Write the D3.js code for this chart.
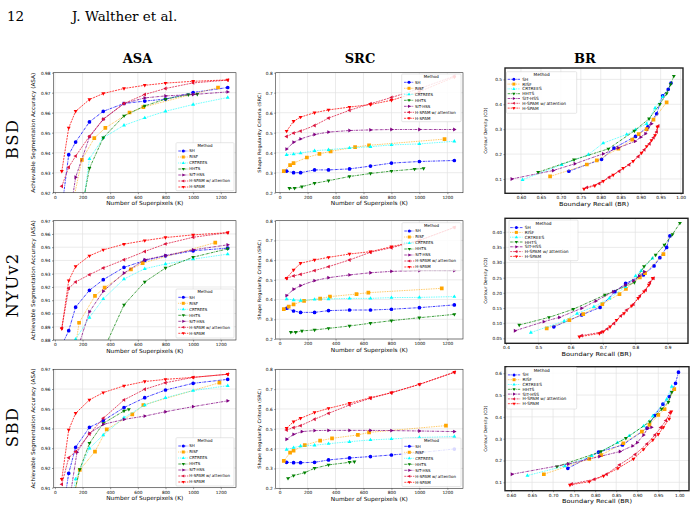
<!DOCTYPE html>
<html>
<head>
<meta charset="utf-8">
<title>superpixel metrics</title>
<script src="https://d3js.org/d3.v7.min.js"></script>
<style>
  body { margin: 0; background: #fff; }
  svg text { font-family: "DejaVu Sans", sans-serif; fill: #000; }
  .serif { font-family: "DejaVu Serif", serif; }
</style>
</head>
<body>
<svg id="fig" width="695" height="509"></svg>
<script>
// methods in legend order
const methods = ["SH", "RISF", "CRTREES", "HHTS", "SIT-HSS", "H-SPAM w/ attention", "H-SPAM"];
const colors = ["#0000ff", "#ffa500", "#00ffff", "#008000", "#800080", "#dc143c", "#ff0000"];
const markers = ["circle", "square", "triUp", "triDown", "triRight", "triLeft", "triDown"];
const dashes = ["2.6,0.8,0.7,0.8", "0.8,0.9", "0.8,0.9", "2.6,0.8,0.7,0.8", "2.6,0.8,0.7,0.8", "2,0.9", "2,0.9"];

// number of superpixels K per method
const std = [50, 100, 150, 250, 350, 500, 650, 800, 1000, 1250];
const bsdK = [std, [30, 75, 100, 195, 285, 365, 540, 640, 1180], std,
  [70, 107, 160, 250, 350, 500, 650, 800, 965, 1030], std, std, std];
const nyuK = [std, [30, 65, 100, 175, 290, 360, 550, 635, 1160], std,
  [80, 115, 160, 250, 350, 500, 650, 800, 1000, 1250], std, std, std];
const sbdK = [std, [30, 75, 100, 180, 290, 375, 560, 640, 1190], std,
  [60, 100, 180, 250, 350, 500, 535], [50, 100, 160, 250, 350, 500, 650, 800, 1000, 1250], std, std];

// ASA
const bsdAsa = [
  [0.912, 0.939, 0.9453, 0.9554, 0.9607, 0.9646, 0.9658, 0.9668, 0.9701, 0.9726],
  [0.880, 0.895, 0.905, 0.9364, 0.9473, 0.9524, 0.9601, 0.9628, 0.9726],
  [0.850, 0.870, 0.886, 0.9369, 0.9475, 0.9537, 0.9574, 0.9607, 0.9641, 0.9676],
  [0.870, 0.885, 0.899, 0.9322, 0.9475, 0.9584, 0.9634, 0.9668, 0.9690, 0.9692],
  [0.890, 0.905, 0.9277, 0.9478, 0.9567, 0.9646, 0.9674, 0.9684, 0.9691, 0.9704],
  [0.9232, 0.9327, 0.9383, 0.9482, 0.9568, 0.9646, 0.9691, 0.9721, 0.9749, 0.9763],
  [0.9307, 0.9524, 0.9607, 0.9666, 0.9696, 0.9721, 0.9737, 0.9748, 0.9757, 0.9764]
];
const nyuAsa = [
  [0.876, 0.887, 0.9048, 0.9175, 0.9255, 0.9348, 0.940, 0.9435, 0.9473, 0.9493],
  [0.820, 0.830, 0.842, 0.893, 0.9133, 0.9195, 0.9333, 0.938, 0.9535],
  [0.860, 0.870, 0.8805, 0.897, 0.911, 0.926, 0.9338, 0.9373, 0.941, 0.9448],
  [0.840, 0.845, 0.850, 0.860, 0.872, 0.9065, 0.9238, 0.9343, 0.9425, 0.9488],
  [0.850, 0.860, 0.8685, 0.9013, 0.9168, 0.9305, 0.9405, 0.9438, 0.948, 0.9518],
  [0.889, 0.919, 0.9238, 0.9293, 0.9343, 0.9405, 0.9468, 0.9525, 0.9575, 0.961],
  [0.8885, 0.9248, 0.9355, 0.9435, 0.948, 0.9523, 0.955, 0.9573, 0.9593, 0.961]
];
const sbdAsa = [
  [0.8945, 0.9173, 0.9305, 0.9406, 0.944, 0.9506, 0.9556, 0.9595, 0.9629, 0.9649],
  [0.870, 0.885, 0.894, 0.919, 0.9283, 0.9396, 0.9472, 0.9519, 0.9632],
  [0.885, 0.895, 0.9144, 0.930, 0.9367, 0.9455, 0.9519, 0.9556, 0.9592, 0.9617],
  [0.880, 0.895, 0.9193, 0.9325, 0.9426, 0.9489, 0.9497],
  [0.890, 0.901, 0.928, 0.9376, 0.9421, 0.9446, 0.9463, 0.9485, 0.9511, 0.954],
  [0.9117, 0.9252, 0.9283, 0.9372, 0.9452, 0.9545, 0.9599, 0.9632, 0.9659, 0.9675],
  [0.9143, 0.9393, 0.9477, 0.9545, 0.9582, 0.9616, 0.9638, 0.9649, 0.9659, 0.9675]
];

// SRC
const bsdSrc = [
  [0.308, 0.300, 0.300, 0.314, 0.314, 0.319, 0.333, 0.348, 0.356, 0.361],
  [0.308, 0.338, 0.348, 0.376, 0.394, 0.407, 0.428, 0.437, 0.468],
  [0.390, 0.393, 0.398, 0.410, 0.415, 0.424, 0.430, 0.439, 0.444, 0.457],
  [0.222, 0.222, 0.230, 0.247, 0.260, 0.281, 0.296, 0.308, 0.318, 0.321],
  [0.418, 0.452, 0.469, 0.491, 0.503, 0.511, 0.514, 0.516, 0.516, 0.516],
  [0.481, 0.498, 0.508, 0.536, 0.573, 0.612, 0.645, 0.676, 0.720, 0.783],
  [0.508, 0.557, 0.578, 0.600, 0.614, 0.628, 0.641, 0.662, 0.705, 0.778]
];
const nyuSrc = [
  [0.356, 0.342, 0.335, 0.335, 0.344, 0.347, 0.347, 0.351, 0.359, 0.373],
  [0.352, 0.364, 0.376, 0.393, 0.405, 0.415, 0.428, 0.435, 0.457],
  [0.403, 0.398, 0.395, 0.401, 0.403, 0.406, 0.406, 0.410, 0.411, 0.415],
  [0.234, 0.234, 0.241, 0.246, 0.254, 0.266, 0.280, 0.293, 0.308, 0.325],
  [0.420, 0.452, 0.471, 0.496, 0.511, 0.525, 0.536, 0.543, 0.547, 0.547],
  [0.508, 0.520, 0.528, 0.547, 0.567, 0.601, 0.640, 0.663, 0.700, 0.766],
  [0.508, 0.550, 0.584, 0.601, 0.614, 0.631, 0.643, 0.668, 0.700, 0.766]
];
const sbdSrc = [
  [0.331, 0.329, 0.329, 0.331, 0.343, 0.353, 0.360, 0.368, 0.380, 0.398],
  [0.338, 0.380, 0.390, 0.418, 0.440, 0.452, 0.469, 0.482, 0.516],
  [0.396, 0.405, 0.413, 0.417, 0.425, 0.435, 0.444, 0.449, 0.456, 0.461],
  [0.250, 0.264, 0.279, 0.301, 0.318, 0.331, 0.334],
  [0.447, 0.472, 0.486, 0.491, 0.492, 0.492, 0.492, 0.491, 0.489, 0.486],
  [0.494, 0.506, 0.516, 0.548, 0.578, 0.620, 0.654, 0.682, 0.724, 0.785],
  [0.503, 0.536, 0.553, 0.582, 0.603, 0.629, 0.657, 0.682, 0.724, 0.785]
];

// boundary recall (x) and contour density (y)
const bsdBr = [
  [0.720, 0.802, 0.833, 0.887, 0.918, 0.940, 0.955, 0.969, 0.976],
  [0.673, 0.765, 0.790, 0.844, 0.879, 0.895, 0.915, 0.932, 0.965],
  [0.604, 0.702, 0.769, 0.806, 0.865, 0.887, 0.915, 0.936, 0.955],
  [0.643, 0.733, 0.819, 0.884, 0.921, 0.948, 0.965, 0.975, 0.983],
  [0.577, 0.681, 0.735, 0.806, 0.844, 0.886, 0.900, 0.912, 0.927],
  [0.765, 0.796, 0.821, 0.846, 0.871, 0.894, 0.909, 0.922, 0.932, 0.940, 0.944],
  [0.758, 0.785, 0.806, 0.831, 0.856, 0.881, 0.902, 0.915, 0.927, 0.936, 0.942]
];
const bsdCd = [
  [0.131, 0.179, 0.224, 0.271, 0.309, 0.362, 0.434, 0.460, 0.485],
  [0.110, 0.158, 0.175, 0.222, 0.258, 0.280, 0.300, 0.338, 0.408],
  [0.097, 0.157, 0.198, 0.244, 0.279, 0.298, 0.322, 0.385, 0.430],
  [0.127, 0.177, 0.221, 0.293, 0.342, 0.400, 0.443, 0.480, 0.513],
  [0.100, 0.134, 0.161, 0.201, 0.225, 0.251, 0.268, 0.282, 0.322],
  [0.066, 0.082, 0.107, 0.131, 0.157, 0.190, 0.217, 0.241, 0.266, 0.289, 0.313],
  [0.060, 0.073, 0.091, 0.116, 0.143, 0.171, 0.204, 0.231, 0.255, 0.275, 0.309]
];
const nyuBr = [
  [0.548, 0.634, 0.691, 0.737, 0.770, 0.825, 0.858, 0.876, 0.897, 0.907],
  [0.526, 0.596, 0.639, 0.698, 0.751, 0.771, 0.814, 0.830, 0.887],
  [0.477, 0.580, 0.620, 0.672, 0.720, 0.770, 0.801, 0.818, 0.853],
  [0.441, 0.533, 0.608, 0.706, 0.797, 0.827, 0.863, 0.890, 0.915, 0.938],
  [0.428, 0.517, 0.565, 0.634, 0.678, 0.732, 0.770, 0.794, 0.812, 0.828],
  [0.634, 0.694, 0.713, 0.734, 0.755, 0.773, 0.794, 0.814, 0.832, 0.845, 0.856],
  [0.627, 0.689, 0.701, 0.722, 0.742, 0.765, 0.789, 0.809, 0.827, 0.842, 0.854]
];
const nyuCd = [
  [0.088, 0.127, 0.152, 0.204, 0.231, 0.259, 0.289, 0.316, 0.350, 0.388],
  [0.083, 0.110, 0.130, 0.163, 0.196, 0.213, 0.251, 0.265, 0.328],
  [0.069, 0.107, 0.132, 0.154, 0.182, 0.220, 0.256, 0.273, 0.314],
  [0.094, 0.119, 0.146, 0.193, 0.234, 0.287, 0.325, 0.358, 0.393, 0.430],
  [0.075, 0.105, 0.119, 0.149, 0.173, 0.204, 0.226, 0.240, 0.256, 0.270],
  [0.059, 0.070, 0.081, 0.099, 0.124, 0.143, 0.162, 0.190, 0.209, 0.234, 0.248],
  [0.055, 0.066, 0.072, 0.088, 0.110, 0.132, 0.157, 0.182, 0.204, 0.226, 0.248]
];
const sbdBr = [
  [0.735, 0.808, 0.865, 0.923, 0.941, 0.961, 0.976, 0.991, 0.998],
  [0.678, 0.786, 0.814, 0.867, 0.911, 0.929, 0.950, 0.965, 0.988],
  [0.639, 0.728, 0.792, 0.853, 0.881, 0.915, 0.937, 0.970, 0.982],
  [0.709, 0.814, 0.873, 0.930, 0.958, 0.974, 0.982],
  [0.602, 0.736, 0.810, 0.859, 0.889, 0.900, 0.915, 0.925, 0.934],
  [0.744, 0.798, 0.827, 0.858, 0.895, 0.923, 0.942, 0.956, 0.968, 0.978],
  [0.740, 0.786, 0.820, 0.854, 0.891, 0.915, 0.937, 0.950, 0.962, 0.976, 0.981]
];
const sbdCd = [
  [0.164, 0.238, 0.271, 0.348, 0.406, 0.458, 0.493, 0.554, 0.605],
  [0.137, 0.207, 0.225, 0.279, 0.332, 0.363, 0.409, 0.435, 0.527],
  [0.131, 0.175, 0.221, 0.282, 0.313, 0.358, 0.404, 0.481, 0.539],
  [0.172, 0.241, 0.302, 0.378, 0.436, 0.467, 0.513],
  [0.137, 0.184, 0.218, 0.241, 0.267, 0.282, 0.317, 0.348, 0.352],
  [0.092, 0.114, 0.137, 0.180, 0.228, 0.276, 0.317, 0.351, 0.383, 0.420],
  [0.088, 0.103, 0.129, 0.164, 0.207, 0.251, 0.294, 0.320, 0.352, 0.391, 0.424]
];

// tick values
const kTicks = [0, 200, 400, 600, 800, 1000, 1200];
const srcTicks = [0.2, 0.3, 0.4, 0.5, 0.6, 0.7, 0.8];
const bsdAsaTicks = [0.92, 0.93, 0.94, 0.95, 0.96, 0.97, 0.98];
const nyuAsaTicks = [0.88, 0.89, 0.90, 0.91, 0.92, 0.93, 0.94, 0.95, 0.96, 0.97];
const sbdAsaTicks = [0.91, 0.92, 0.93, 0.94, 0.95, 0.96, 0.97];
const brTicksA = [0.60, 0.65, 0.70, 0.75, 0.80, 0.85, 0.90, 0.95, 1.00];
const brTicksNyu = [0.4, 0.5, 0.6, 0.7, 0.8, 0.9];
const bsdCdTicks = [0.1, 0.2, 0.3, 0.4, 0.5];
const nyuCdTicks = [0.05, 0.10, 0.15, 0.20, 0.25, 0.30, 0.35, 0.40];
const sbdCdTicks = [0.1, 0.2, 0.3, 0.4, 0.5, 0.6];

const svg = d3.select("#fig");

function symPath(kind, r) {
  if (kind === "circle") return d3.symbol(d3.symbolCircle, Math.PI * r * r)();
  if (kind === "square") return `M${-r},${-r}h${2 * r}v${2 * r}h${-2 * r}Z`;
  const a = { triUp: 0, triRight: 90, triDown: 180, triLeft: 270 }[kind] * Math.PI / 180;
  const pts = [[0, -r * 1.2], [r * 1.05, r * 0.65], [-r * 1.05, r * 0.65]]
    .map(([x, y]) => [x * Math.cos(a) - y * Math.sin(a), x * Math.sin(a) + y * Math.cos(a)]);
  return "M" + pts.map(p => p[0].toFixed(2) + "," + p[1].toFixed(2)).join("L") + "Z";
}

let clipId = 0;
function drawPanel(p) {
  const x = d3.scaleLinear().domain(p.xd).range([p.l, p.r]);
  const y = d3.scaleLinear().domain(p.yd).range([p.b, p.t]);
  const g = svg.append("g");

  // grid
  g.selectAll(null).data(p.xt).join("line")
    .attr("x1", d => x(d)).attr("x2", d => x(d)).attr("y1", p.t).attr("y2", p.b)
    .attr("stroke", "#e3e3e3").attr("stroke-width", 0.7);
  g.selectAll(null).data(p.yt).join("line")
    .attr("y1", d => y(d)).attr("y2", d => y(d)).attr("x1", p.l).attr("x2", p.r)
    .attr("stroke", "#e3e3e3").attr("stroke-width", 0.7);

  // axes
  const styleAxis = a => {
    a.select(".domain").remove();
    a.attr("font-size", 4.3).attr("font-family", "DejaVu Sans");
    a.selectAll("line").attr("stroke", "#333").attr("stroke-width", 0.5);
    a.selectAll("text").attr("fill", "#222");
  };
  g.append("g").attr("transform", `translate(0,${p.b})`)
    .call(d3.axisBottom(x).tickValues(p.xt).tickFormat(d3.format(p.xf)).tickSize(1.5).tickPadding(1.5))
    .call(styleAxis);
  g.append("g").attr("transform", `translate(${p.l},0)`)
    .call(d3.axisLeft(y).tickValues(p.yt).tickFormat(d3.format(p.yf)).tickSize(1.5).tickPadding(1.5))
    .call(styleAxis);

  // series
  const id = "clip" + (clipId++);
  svg.append("clipPath").attr("id", id).append("rect")
    .attr("x", p.l).attr("y", p.t).attr("width", p.r - p.l).attr("height", p.b - p.t);
  const plot = g.append("g").attr("clip-path", `url(#${id})`);
  const line = d3.line().x(d => x(d[0])).y(d => y(d[1]));
  methods.forEach((m, i) => {
    const pts = p.xs[i].map((v, j) => [v, p.ys[i][j]]);
    plot.append("path").datum(pts).attr("d", line)
      .attr("fill", "none").attr("stroke", colors[i]).attr("stroke-width", 0.75)
      .attr("stroke-dasharray", dashes[i]);
    plot.selectAll(null).data(pts).join("path")
      .attr("transform", d => `translate(${x(d[0])},${y(d[1])})`)
      .attr("d", symPath(markers[i], 1.85)).attr("fill", colors[i]);
  });

  // frame
  g.append("rect").attr("x", p.l).attr("y", p.t).attr("width", p.r - p.l).attr("height", p.b - p.t)
    .attr("fill", "none").attr("stroke", p.frame ? "#222" : "#333").attr("stroke-width", p.frame ? 1.4 : 0.6);

  // labels
  g.append("text").attr("x", (p.l + p.r) / 2).attr("y", p.b + 12.5).attr("text-anchor", "middle")
    .attr("font-size", 5.6).attr("textLength", p.xlw).attr("lengthAdjust", "spacingAndGlyphs").text(p.xlab);
  g.append("text").attr("transform", `translate(${p.ylx},${(p.t + p.b) / 2}) rotate(-90)`)
    .attr("text-anchor", "middle").attr("dy", "0.35em").attr("font-size", p.ylf)
    .attr("textLength", p.ylw).attr("lengthAdjust", "spacingAndGlyphs").text(p.ylab);

  // legend
  const L = p.leg, br = p.frame;
  const lg = g.append("g").attr("transform", `translate(${L[0]},${L[1]})`);
  const w = L[2] - L[0], h = L[3] - L[1];
  lg.append("rect").attr("width", w).attr("height", h).attr("rx", 1)
    .attr("fill", "#fff").attr("fill-opacity", 0.85).attr("stroke", "#cfcfcf").attr("stroke-width", 0.5);
  const fs = br ? 4.3 : 4.0, y0 = br ? 7.6 : 8.3, step = br ? 4.8 : 6.0;
  const s0 = br ? 1.2 : 2.3, s1 = br ? 13.5 : 12.3, tx = br ? 15.8 : 13.3;
  lg.append("text").attr("x", w / 2).attr("y", br ? 3.3 : 3).attr("dy", "0.35em")
    .attr("text-anchor", "middle").attr("font-size", fs).attr("fill", "#333").text("Method");
  methods.forEach((m, i) => {
    const yy = y0 + i * step;
    lg.append("line").attr("x1", s0).attr("x2", s1).attr("y1", yy).attr("y2", yy)
      .attr("stroke", colors[i]).attr("stroke-width", 0.7).attr("stroke-dasharray", dashes[i]);
    lg.append("path").attr("transform", `translate(${(s0 + s1) / 2},${yy})`)
      .attr("d", symPath(markers[i], 1.5)).attr("fill", colors[i]);
    lg.append("text").attr("x", tx).attr("y", yy).attr("dy", "0.35em")
      .attr("font-size", fs).attr("fill", "#333").text(m);
  });
}

const asaLab = "Achievable Segmentation Accuracy (ASA)";
const srcLab = "Shape Regularity Criteria (SRC)";
const kLab = "Number of Superpixels (K)";
const brLab = "Boundary Recall (BR)";
const cdLab = "Contour Density (CD)";

const asaBase = { l: 53.5, r: 236, xd: [-10, 1310], xt: kTicks, xf: "d", yf: ".2f",
  xlab: kLab, xlw: 77, ylab: asaLab, ylx: 33.5, ylf: 5.4, ylw: 120 };
const srcBase = { l: 275.7, r: 463, xd: [-28, 1312], xt: kTicks, xf: "d", yf: ".1f", yt: srcTicks,
  yd: [0.2, 0.8], xlab: kLab, xlw: 77, ylab: srcLab, ylx: 259, ylf: 4.6, ylw: 80 };
const brBase = { frame: true, xlab: brLab, xlw: 70, ylab: cdLab, ylx: 485, ylf: 4.3, ylw: 46 };

const panels = [
  { ...asaBase, t: 72.7, b: 192.7, yd: [0.92, 0.98], yt: bsdAsaTicks, xs: bsdK, ys: bsdAsa, leg: [176, 142.7, 234, 190.7] },
  { ...srcBase, t: 72.7, b: 192.7, xs: bsdK, ys: bsdSrc, leg: [401.7, 74, 461, 121.7] },
  { ...brBase, l: 505, r: 683, t: 68, b: 193.3, xd: [0.560, 1.006], yd: [0.0424, 0.5457],
    xt: brTicksA, xf: ".2f", yt: bsdCdTicks, yf: ".1f", xs: bsdBr, ys: bsdCd, leg: [506.5, 71.7, 576.7, 113.3] },
  { ...asaBase, t: 220.7, b: 340, yd: [0.88, 0.97], yt: nyuAsaTicks, xs: nyuK, ys: nyuAsa, leg: [176, 289, 234, 338] },
  { ...srcBase, t: 220.7, b: 339, xs: nyuK, ys: nyuSrc, leg: [402, 222.7, 461, 270.7] },
  { ...brBase, l: 505, r: 688, t: 218.3, b: 343.3, xd: [0.397, 0.963], yd: [0.0335, 0.446],
    xt: brTicksNyu, xf: ".1f", yt: nyuCdTicks, yf: ".2f", xs: nyuBr, ys: nyuCd, leg: [509, 220, 578, 260.7] },
  { ...asaBase, t: 369.3, b: 487.7, yd: [0.91, 0.97], yt: sbdAsaTicks, xs: sbdK, ys: sbdAsa, leg: [176, 437.7, 234, 486] },
  { ...srcBase, t: 369.3, b: 488.3, xs: sbdK, ys: sbdSrc, leg: [402, 438, 461, 486.5] },
  { ...brBase, l: 505, r: 689, t: 366.7, b: 490.7, xd: [0.5857, 1.023], yd: [0.0615, 0.630],
    xt: brTicksA, xf: ".2f", yt: sbdCdTicks, yf: ".1f", xs: sbdBr, ys: sbdCd, leg: [506.7, 367.3, 576.7, 409] }
];
panels.forEach(drawPanel);

// page header, column and row titles
svg.append("text").attr("class", "serif").attr("x", 7).attr("y", 21).attr("font-size", 13.5).text("12");
svg.append("text").attr("class", "serif").attr("x", 72).attr("y", 21).attr("font-size", 13.5).text("J. Walther et al.");
const colTitles = ["ASA", "SRC", "BR"];
const colX = [137.5, 360, 585];
colTitles.forEach((t, i) => svg.append("text").attr("class", "serif").attr("x", colX[i]).attr("y", 63)
  .attr("text-anchor", "middle").attr("font-size", 13).attr("font-weight", "bold").text(t));
const rowTitles = ["BSD", "NYUv2", "SBD"];
const rowY = [139, 285, 427];
rowTitles.forEach((t, i) => svg.append("text").attr("class", "serif")
  .attr("transform", `translate(18,${rowY[i]}) rotate(-90)`).attr("text-anchor", "middle")
  .attr("font-size", 16.5).attr("letter-spacing", 1.2).text(t));
</script>
</body>
</html>
